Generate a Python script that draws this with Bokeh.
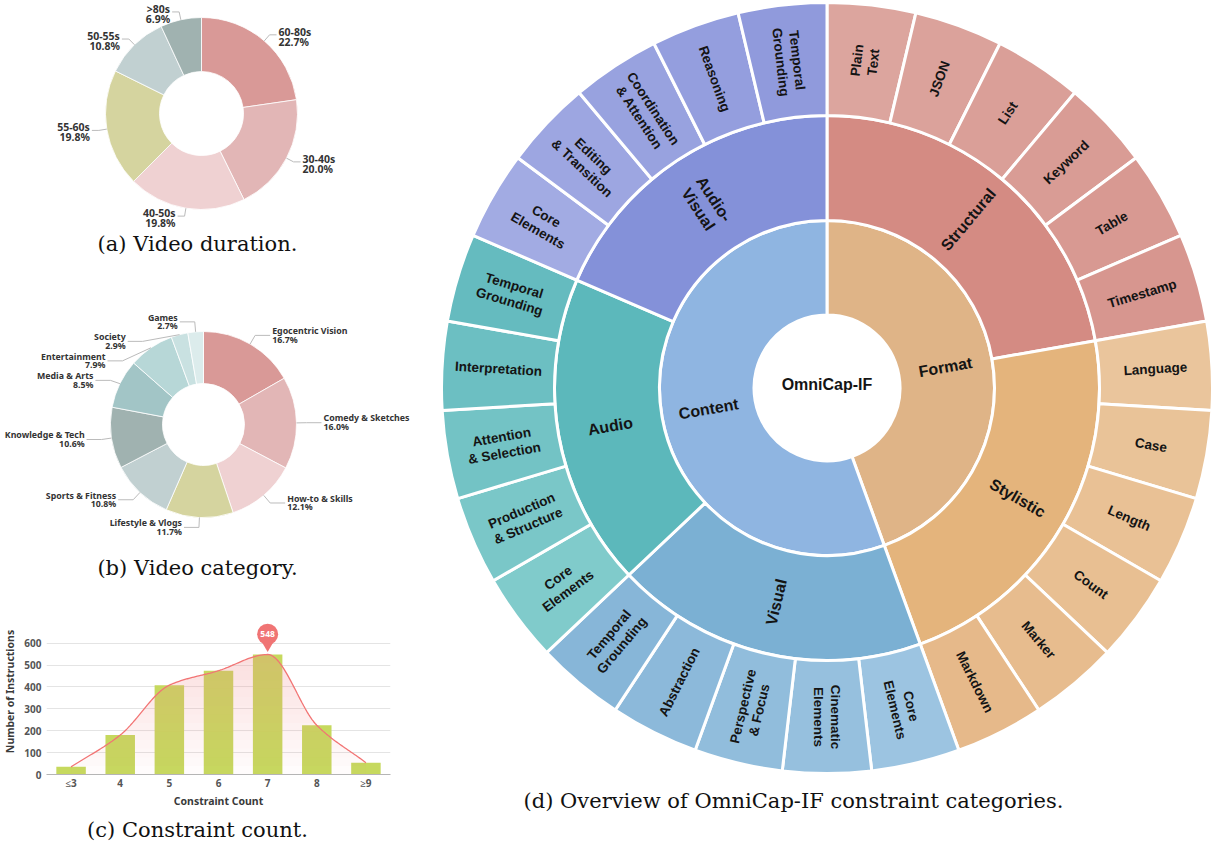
import math
import numpy as np
from bokeh.plotting import figure
from bokeh.layouts import row, column
from bokeh.models import Range1d, FixedTicker, Plot
from bokeh.core.properties import value
from bokeh.embed import file_html
from bokeh.resources import INLINE

# ---------------- data ----------------
# (a) video duration
dur_labels = ["60-80s", "30-40s", "40-50s", "55-60s", "50-55s", ">80s"]
dur_pct = [22.7, 20.0, 19.8, 19.8, 10.8, 6.9]
dur_colors = ["#d99997", "#e2b6b6", "#efd1d2", "#d5d49f", "#c1d0d1", "#a0b2b0"]

# (b) video category
cat_labels = ["Egocentric Vision", "Comedy & Sketches", "How-to & Skills", "Lifestyle & Vlogs",
              "Sports & Fitness", "Knowledge & Tech", "Media & Arts", "Entertainment",
              "Society", "Games"]
cat_pct = [16.7, 16.0, 12.1, 11.7, 10.8, 10.6, 8.5, 7.9, 2.9, 2.7]
cat_colors = ["#d99997", "#e2b6b6", "#efd1d2", "#d5d49f", "#c1d0d1", "#a0b2b0",
              "#a2c5c6", "#b7d7d7", "#c9e1e1", "#dcecec"]

# (c) constraint count
cc_labels = ["≤3", "4", "5", "6", "7", "8", "≥9"]
cc_counts = [35, 180, 408, 474, 548, 225, 54]

# (d) sunburst
sb_root = "OmniCap-IF"
sb_l1 = ["Format", "Content"]
sb_l1_colors = ["#dfb487", "#8fb5e1"]
sb_l2 = ["Structural", "Stylistic", "Visual", "Audio", "Audio-\nVisual"]
sb_l2_parent = [0, 0, 1, 1, 1]
sb_l2_colors = ["#d48b83", "#e4b47c", "#7bb0d3", "#5cb8bb", "#8491d9"]
sb_leaves = ["Plain\nText", "JSON", "List", "Keyword", "Table", "Timestamp",
             "Language", "Case", "Length", "Count", "Marker", "Markdown",
             "Core\nElements", "Cinematic\nElements", "Perspective\n& Focus", "Abstraction", "Temporal\nGrounding",
             "Core\nElements", "Production\n& Structure", "Attention\n& Selection", "Interpretation", "Temporal\nGrounding",
             "Core\nElements", "Editing\n& Transition", "Coordination\n& Attention", "Reasoning", "Temporal\nGrounding"]
sb_leaf_parent = [0] * 6 + [1] * 6 + [2] * 5 + [3] * 5 + [4] * 5
sb_leaf_value = [1] * 27
sb_leaf_colors = ["#dca59e", "#dba29b", "#da9f98", "#d99c95", "#d89992", "#d7968f",
                  "#eac59c", "#e9c398", "#e9c195", "#e8bf92", "#e7bc8e", "#e6b98a",
                  "#9cc4e1", "#96c0de", "#91bddc", "#8cb9da", "#87b6d8",
                  "#80cbcb", "#7ac7c8", "#73c3c5", "#6cbfc2", "#65bbbf",
                  "#a2abe3", "#9da6e1", "#98a2df", "#949ede", "#909adc"]

captions = ["(a) Video duration.", "(b) Video category.", "(c) Constraint count.",
            "(d) Overview of OmniCap-IF constraint categories."]

SANS = value("Noto Sans")
SERIF = value("DejaVu Serif")
ARIAL = value("Liberation Sans")

# left column geometry (page pixels)
LW = 430
BL, BR = 42, 40
CAN_UNALIGN = "frame_align" in Plot.properties()
FBL, FBR = (0, 0) if CAN_UNALIGN else (BL, BR)


def blank_fig(x0, x1, y0, y1, bl=0, br=0):
    p = figure(width=int(x1 - x0), height=int(y1 - y0), x_range=Range1d(x0 + bl, x1 - br),
               y_range=Range1d(-y1, -y0), x_axis_type=None, y_axis_type=None,
               output_backend="svg", toolbar_location=None, min_border=0,
               min_border_left=bl, min_border_right=br, outline_line_color=None)
    p.xgrid.visible = False
    p.ygrid.visible = False
    if CAN_UNALIGN:
        p.frame_align = False
    return p


def caption(p, x, y, txt):
    p.text(x=[x], y=[-y], text=[txt], text_font=SERIF, text_font_size="21px",
           text_align="center", text_baseline="middle", text_color="#111111")


def donut(p, cx, cy, r_in, r_out, labels, pct, colors, len1, len2, fs, gap, toff=0.0):
    total = float(sum(pct))
    cum = np.concatenate([[0.0], np.cumsum(pct)]) / total * 360.0
    t0, t1 = cum[:-1], cum[1:]
    p.annular_wedge(x=cx, y=-cy, inner_radius=r_in, outer_radius=r_out,
                    start_angle=list(np.radians(90 - t1)), end_angle=list(np.radians(90 - t0)),
                    direction="anticlock", fill_color=colors, line_color="white", line_width=0.8)
    R = r_out + len1
    items = []
    for i, m in enumerate((t0 + t1) / 2):
        s, c = math.sin(math.radians(m)), math.cos(math.radians(m))
        items.append(dict(i=i, ex=cx + r_out * s, ey=cy - r_out * c,
                          px=cx + R * s, py=cy - R * c, side=1 if s >= 0 else -1))
    for side in (1, -1):
        its = sorted([it for it in items if it["side"] == side], key=lambda t: t["py"])
        prev = None
        for it in its:
            y = it["py"]
            if prev is not None and y < prev + gap:
                y = prev + gap
                dy = y - cy
                it["px"] = cx + side * math.sqrt(max(R * R - dy * dy, 0.0))
            it["py"] = y
            prev = y
    xs_l, ys_l = [], []
    for side, align in ((1, "left"), (-1, "right")):
        tx, ty1, ty2, t1s, t2s = [], [], [], [], []
        for it in items:
            if it["side"] != side:
                continue
            x2 = it["px"] + side * len2
            xs_l.append([it["ex"], it["px"], x2])
            ys_l.append([-it["ey"], -it["py"], -it["py"]])
            tx.append(x2 + side * 2)
            ty1.append(-(it["py"] + toff - fs * 0.48))
            ty2.append(-(it["py"] + toff + fs * 0.48))
            t1s.append(labels[it["i"]])
            t2s.append(f"{pct[it['i']]:.1f}%")
        for yy, tt in ((ty1, t1s), (ty2, t2s)):
            p.text(x=tx, y=yy, text=tt, text_font=SANS, text_font_style="bold",
                   text_font_size=f"{fs}px", text_align=align, text_baseline="middle",
                   text_color="#333333")
    p.multi_line(xs=xs_l, ys=ys_l, line_color="#bbbbbb", line_width=1)


# ---------------- (a) + (b) ----------------
p_ab = blank_fig(0, LW, 0, 598, FBL, FBR)
donut(p_ab, 201, 113, 42, 96, dur_labels, dur_pct, dur_colors, 8, 7, 10.5, 21, toff=2.0)
caption(p_ab, 197, 243, captions[0])
donut(p_ab, 203, 424, 41, 93, cat_labels, cat_pct, cat_colors, 10, 15, 8.8, 19.5)
caption(p_ab, 197, 567, captions[1])


# ---------------- (c) ----------------
def pchip(xv, yv, n=30):
    x = np.asarray(xv, float)
    y = np.asarray(yv, float)
    h = np.diff(x)
    d = np.diff(y) / h
    m = np.zeros_like(y)
    m[0], m[-1] = d[0], d[-1]
    for k in range(1, len(y) - 1):
        if d[k - 1] * d[k] <= 0:
            m[k] = 0.0
        else:
            w1, w2 = 2 * h[k] + h[k - 1], h[k] + 2 * h[k - 1]
            m[k] = (w1 + w2) / (w1 / d[k - 1] + w2 / d[k])
    xs, ys = [], []
    for k in range(len(x) - 1):
        t = np.linspace(0, 1, n, endpoint=False)
        h00 = 2 * t ** 3 - 3 * t ** 2 + 1
        h10 = t ** 3 - 2 * t ** 2 + t
        h01 = -2 * t ** 3 + 3 * t ** 2
        h11 = t ** 3 - t ** 2
        xs.extend(x[k] + t * h[k])
        ys.extend(h00 * y[k] + h10 * h[k] * m[k] + h01 * y[k + 1] + h11 * h[k] * m[k + 1])
    xs.append(x[-1])
    ys.append(y[-1])
    return np.array(xs), np.array(ys)


Y_TOP = 758
PC_H, PC_TOP, PC_BOT = 212, 10, 34
pc = figure(width=LW, height=PC_H, x_range=Range1d(-0.5, len(cc_labels) - 0.5),
            y_range=Range1d(0, Y_TOP), output_backend="svg", toolbar_location=None,
            min_border_left=BL, min_border_right=BR, min_border_top=PC_TOP,
            min_border_bottom=PC_BOT, outline_line_color=None)
if CAN_UNALIGN:
    pc.frame_align = False
ticks_y = [0, 100, 200, 300, 400, 500, 600]
pc.yaxis.ticker = FixedTicker(ticks=ticks_y)
pc.ygrid.ticker = FixedTicker(ticks=ticks_y)
pc.ygrid.grid_line_color = "#e4e4e4"
pc.xgrid.visible = False
pc.yaxis.axis_line_color = None
pc.yaxis.major_tick_line_color = None
pc.yaxis.minor_tick_line_color = None
pc.yaxis.major_tick_out = 0
pc.yaxis.major_tick_in = 0
pc.yaxis.major_label_standoff = 5
pc.yaxis.axis_label = "Number of Instructions"
pc.yaxis.axis_label_standoff = 4
pc.xaxis.ticker = FixedTicker(ticks=list(range(len(cc_labels))))
pc.xaxis.major_label_overrides = {i: s for i, s in enumerate(cc_labels)}
pc.xaxis.axis_line_color = "#b5b5b5"
pc.xaxis.major_tick_line_color = None
pc.xaxis.minor_tick_line_color = None
pc.xaxis.major_tick_out = 0
pc.xaxis.major_tick_in = 0
pc.xaxis.major_label_standoff = 1
pc.xaxis.axis_label = "Constraint Count"
pc.xaxis.axis_label_standoff = 1
for ax in (pc.xaxis, pc.yaxis):
    ax.major_label_text_font = "Noto Sans"
    ax.major_label_text_font_style = "bold"
    ax.major_label_text_font_size = "10px"
    ax.major_label_text_color = "#555555"
    ax.axis_label_text_font = "Noto Sans"
    ax.axis_label_text_font_style = "bold"
    ax.axis_label_text_font_size = "10.5px"
    ax.axis_label_text_color = "#3a3a3a"

xi = list(range(len(cc_counts)))
pc.vbar(x=xi, top=cc_counts, width=0.6, fill_color="#c6d95e", line_color=None)
sx, sy = pchip(xi, cc_counts)
NB = 14
ymax = max(cc_counts)
for k in range(NB):
    lo = np.minimum(sy, ymax * k / NB)
    hi = np.minimum(sy, ymax * (k + 1) / NB)
    pc.varea(x=sx, y1=lo, y2=hi, fill_color="#f08a8a", fill_alpha=0.02 + 0.26 * (k + 0.5) / NB)
pc.line(sx, sy, line_color="#f27474", line_width=1.3)

# pin marker at the maximum
imax = int(np.argmax(cc_counts))
ppu = (PC_H - PC_TOP - PC_BOT) / Y_TOP
pc.scatter(x=[xi[imax]], y=[cc_counts[imax] + 9 / ppu], marker="inverted_triangle", size=11,
           fill_color="#f07474", line_color=None)
pc.scatter(x=[xi[imax]], y=[cc_counts[imax] + 20.5 / ppu], marker="circle", size=21,
           fill_color="#f07474", line_color=None)
pc.text(x=[xi[imax]], y=[cc_counts[imax] + 20.5 / ppu], text=[str(cc_counts[imax])],
        text_font=SANS, text_font_style="bold", text_font_size="8.5px", text_align="center",
        text_baseline="middle", text_color="white")

p_cap = blank_fig(0, LW, 598 + PC_H, 845, FBL, FBR)
caption(p_cap, 197, 829, captions[2])

# ---------------- (d) sunburst ----------------
p_d = blank_fig(LW, 1214, 0, 845)
CX, CY = 826.5, 387.5
R0, R1, R2, R3 = 73, 167.5, 272.5, 385.5


def angles(vals):
    tot = float(sum(vals))
    cum = np.concatenate([[0.0], np.cumsum(vals)]) / tot * 360.0
    return cum[:-1], cum[1:]


l2_val = [sum(v for v, q in zip(sb_leaf_value, sb_leaf_parent) if q == j) for j in range(len(sb_l2))]
l1_val = [sum(v for v, q in zip(l2_val, sb_l2_parent) if q == j) for j in range(len(sb_l1))]


def ring(r_in, r_out, vals, colors, names, fs):
    t0, t1 = angles(vals)
    p_d.annular_wedge(x=CX, y=-CY, inner_radius=r_in, outer_radius=r_out,
                      start_angle=list(np.radians(90 - t1)), end_angle=list(np.radians(90 - t0)),
                      direction="anticlock", fill_color=colors, line_color="white", line_width=3)
    mid = (t0 + t1) / 2
    rm = (r_in + r_out) / 2
    xs = CX + rm * np.sin(np.radians(mid))
    ys = -(CY - rm * np.cos(np.radians(mid)))
    ang = np.where(mid <= 180.001, 90 - mid, 270 - mid)
    p_d.text(x=list(xs), y=list(ys), text=names, angle=list(np.radians(ang)), text_font=ARIAL,
             text_font_style="bold", text_font_size=f"{fs}px", text_align="center",
             text_baseline="middle", text_line_height=1.1, text_color="#141414")


ring(R0, R1, l1_val, sb_l1_colors, sb_l1, 16)
ring(R1, R2, l2_val, sb_l2_colors, sb_l2, 16)
ring(R2, R3, sb_leaf_value, sb_leaf_colors, sb_leaves, 13.5)
p_d.text(x=[CX], y=[-CY], y_offset=-4, text=[sb_root], text_font=ARIAL, text_font_style="bold",
         text_font_size="16px", text_align="center", text_baseline="middle", text_color="#141414")
caption(p_d, 793, 800, captions[3])

layout = row(column(p_ab, pc, p_cap), p_d)
open("out.html", "w").write(file_html(layout, INLINE))
